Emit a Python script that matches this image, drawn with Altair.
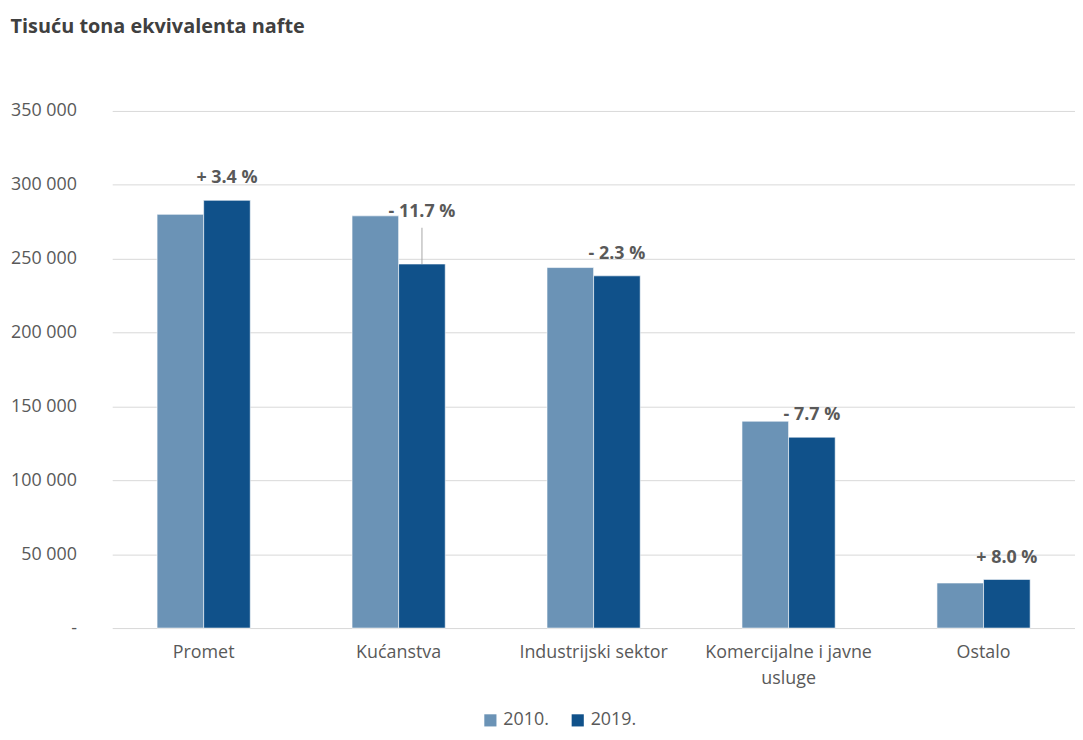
import altair as alt
import pandas as pd

categories = ["Promet", "Kućanstva", "Industrijski sektor", "Komercijalne i javne usluge", "Ostalo"]
series = ["2010.", "2019."]
v2010 = [280000, 279000, 244000, 140000, 30500]
v2019 = [289500, 246400, 238400, 129200, 32940]
changes = ["+ 3.4 %", "- 11.7 %", "- 2.3 %", "- 7.7 %", "+ 8.0 %"]
colors = ["#6B93B6", "#10518A"]

FONT = "Open Sans"

long_rows = []
for c, a, b in zip(categories, v2010, v2019):
    long_rows.append({"category": c, "series": series[0], "value": a})
    long_rows.append({"category": c, "series": series[1], "value": b})
long_df = pd.DataFrame(long_rows)
wide_df = pd.DataFrame({"category": categories, "v2010": v2010, "v2019": v2019, "change": changes})

xenc = alt.X(
    "category:N",
    sort=categories,
    scale=alt.Scale(paddingInner=0.522, paddingOuter=0.23),
    axis=alt.Axis(
        title=None, labelAngle=0, labelFontSize=18, labelColor="#595959", labelFont=FONT,
        labelPadding=16, ticks=False, domain=False, labelLineHeight=26,
        labelExpr="datum.value == 'Komercijalne i javne usluge' ? ['Komercijalne i javne', 'usluge'] : datum.value",
    ),
)

yscale = alt.Scale(domain=[0, 350000], nice=False)

bars = alt.Chart(long_df).mark_bar(stroke="white", strokeWidth=0.6).encode(
    x=xenc,
    xOffset=alt.XOffset("series:N", sort=series),
    y=alt.Y(
        "value:Q",
        scale=yscale,
        axis=alt.Axis(
            title=None, values=[0, 50000, 100000, 150000, 200000, 250000, 300000, 350000],
            labelFontSize=18, labelColor="#595959", labelFont=FONT, labelPadding=36,
            ticks=False, domain=False, gridColor="#D9D9D9", gridWidth=1,
            labelExpr="datum.value == 0 ? '-\u00a0\u00a0\u00a0' : replace(format(datum.value, ',d'), ',', ' ')",
        ),
    ),
    color=alt.Color(
        "series:N",
        sort=series,
        scale=alt.Scale(domain=series, range=colors),
        legend=alt.Legend(
            title=None, orient="none", legendX=372, legendY=605, direction="horizontal",
            symbolType="square", symbolSize=150, symbolStrokeWidth=0, labelFontSize=18,
            labelColor="#595959", labelFont=FONT, columnPadding=20,
        ),
    ),
)

txt_main = alt.Chart(wide_df).transform_filter(
    alt.datum.category != "Kućanstva"
).mark_text(
    dx=23.5, dy=-22, fontSize=18, fontWeight="bold", color="#595959", font=FONT, baseline="middle"
).encode(
    x=alt.X("category:N", sort=categories),
    y=alt.Y("v2019:Q", scale=yscale),
    text="change:N",
)

txt_kuc = alt.Chart(wide_df).transform_filter(
    alt.datum.category == "Kućanstva"
).mark_text(
    dx=23.5, dy=-4, fontSize=18, fontWeight="bold", color="#595959", font=FONT, baseline="middle"
).encode(
    x=alt.X("category:N", sort=categories),
    y=alt.Y("v2010:Q", scale=yscale),
    text="change:N",
)

leader = alt.Chart(wide_df).transform_filter(
    alt.datum.category == "Kućanstva"
).mark_rule(xOffset=23.5, y2Offset=12, color="#A6A6A6", strokeWidth=1).encode(
    x=alt.X("category:N", sort=categories),
    y=alt.Y("v2019:Q", scale=yscale),
    y2="v2010:Q",
)

chart = alt.layer(bars, leader, txt_main, txt_kuc).properties(
    width=970,
    height=521,
    padding={"left": 2, "top": 6, "right": 0, "bottom": 0},
    title=alt.TitleParams(
        "Tisuću tona ekvivalenta nafte", anchor="start", frame="bounds", fontSize=20,
        fontWeight="bold", color="#404040", font=FONT, offset=66,
    ),
).configure_view(stroke=None)

chart.save("out.html", embed_options={"renderer": "svg", "actions": False})
